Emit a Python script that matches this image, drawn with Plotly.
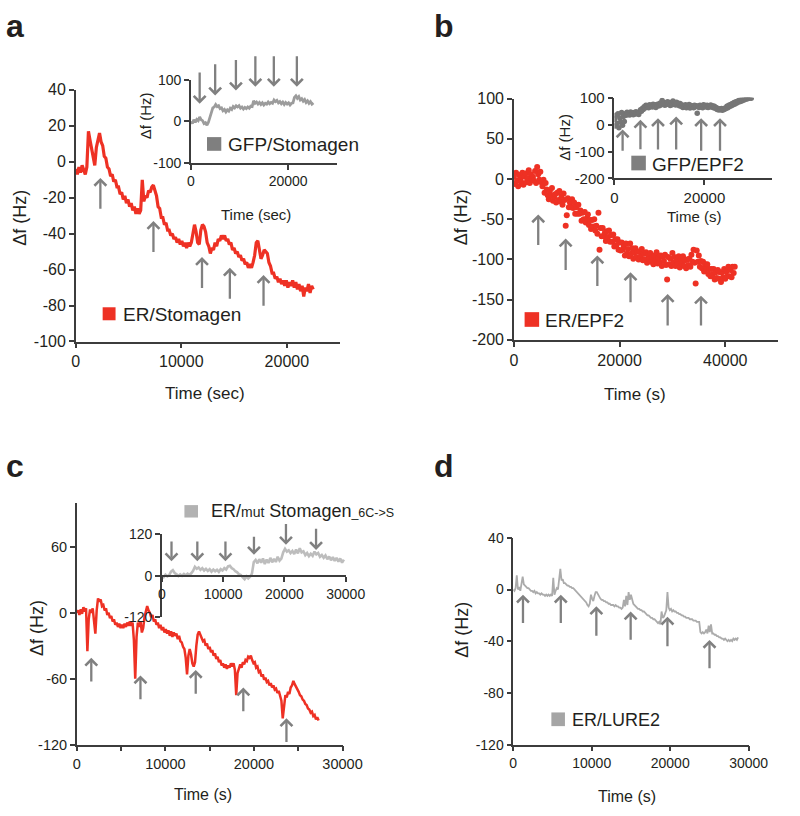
import plotly.graph_objects as go

W, H = 800, 816

# ---------------- data ----------------
# panel a: ER/Stomagen (sampled every a_step seconds)
a_step = 150
a_vals = [-4, -7, -3, -6, -2, -5, -7, -3, 17, 12, 7, 1, -2, 8, 12, 16, 11, 9, 3, 2,
          -3, -4, -8, -7, -11, -10, -14, -14, -18, -17, -21, -19, -23, -21, -25, -23, -27, -25, -29, -26,
          -29, -27, -10, -22, -19, -20, -16, -17, -14, -13, -16, -19, -25, -26, -31, -31, -35, -34, -38, -38,
          -41, -40, -43, -42, -45, -43, -46, -44, -47, -45, -48, -45, -47, -45, -40, -35, -39, -45, -46, -38,
          -35, -36, -39, -45, -47, -51, -48, -49, -45, -47, -43, -44, -41, -43, -41, -44, -43, -46, -45, -49,
          -48, -51, -50, -53, -52, -55, -54, -57, -56, -59, -57, -59, -56, -52, -45, -44, -49, -54, -52, -49,
          -50, -51, -56, -58, -62, -62, -65, -64, -67, -65, -68, -66, -69, -66, -70, -67, -69, -66, -70, -67,
          -71, -68, -72, -69, -75, -70, -72, -68, -73, -69, -71]
# panel a inset: GFP/Stomagen
a_in_step = 300
a_in_vals = [0, -5, 4, -2, 5, 2, 11, 4, 2, -5, -3, -9, -2, 12, 24, 33, 35, 41, 36, 38,
             31, 33, 26, 29, 23, 28, 25, 32, 29, 36, 33, 38, 35, 38, 32, 35, 30, 34, 31, 35,
             32, 37, 36, 50, 44, 47, 42, 46, 41, 45, 40, 44, 42, 47, 43, 46, 44, 52, 48, 51,
             45, 48, 43, 47, 41, 46, 42, 45, 40, 44, 45, 58, 62, 56, 60, 52, 55, 49, 53, 46,
             50, 44, 48, 42, 45]
# panel b: ER/EPF2
b_step = 200
b_vals = [3, -6, 8, -2, -9, 5, 1, -4, 8, -7, 3, 7, -4, 1, 11, -5, 6, 0, 3, -2,
          10, -5, 15, 6, -1, 9, -4, -9, -1, -17, -5, -13, -20, -25, -15, -20, -11, -27, -22, -19,
          -29, -17, -26, -15, -28, -21, -32, -18, -26, -58, -45, -24, -35, -29, -35, -25, -36, -29, -43, -35,
          -43, -32, -43, -39, -52, -42, -50, -41, -54, -49, -44, -57, -51, -62, -51, -59, -50, -64, -58, -68,
          -42, -88, -61, -71, -61, -71, -67, -77, -65, -72, -64, -78, -70, -78, -69, -84, -75, -82, -75, -88,
          -79, -89, -79, -88, -84, -95, -80, -93, -87, -96, -80, -93, -86, -99, -91, -86, -97, -90, -100, -90,
          -96, -87, -101, -93, -100, -91, -104, -94, -100, -92, -103, -97, -106, -95, -101, -91, -105, -98, -104, -95,
          -108, -97, -102, -94, -107, -125, -97, -106, -99, -108, -92, -104, -97, -108, -101, -106, -96, -110, -100, -105,
          -96, -108, -101, -111, -100, -107, -99, -109, -94, -103, -88, -104, -130, -89, -103, -95, -109, -102, -111, -103,
          -115, -106, -112, -106, -118, -112, -121, -112, -119, -112, -125, -116, -123, -113, -124, -116, -128, -116, -122, -112,
          -124, -115, -121, -109, -121, -113, -122, -109, -117, -109]
# panel b inset: GFP/EPF2
b_in_step = 200
b_in_vals = [20, -5, 35, 5, 40, -12, 25, 10, 45, -2, 30, 12, 40, 35, 46, 38, 44, 36, 47, 40,
             43, 37, 45, 39, 48, 41, 44, 38, 47, 55, 50, 60, 56, 66, 62, 72, 66, 70, 63, 74,
             67, 72, 65, 76, 68, 73, 64, 75, 69, 77, 70, 80, 74, 90, 78, 82, 72, 80, 75, 85,
             76, 82, 71, 80, 74, 88, 76, 81, 73, 83, 75, 79, 70, 78, 68, 73, 64, 71, 66, 74,
             63, 70, 66, 75, 62, 71, 65, 69, 63, 72, 66, 70, 42, 68, 64, 72, 66, 70, 63, 74,
             67, 71, 65, 72, 64, 70, 66, 73, 65, 70, 63, 68, 61, 64, 56, 60, 54, 59, 55, 60,
             53, 58, 56, 62, 60, 68, 63, 72, 67, 75, 70, 78, 74, 82, 77, 85, 80, 88, 84, 91,
             86, 93, 89, 96, 91, 98, 94, 100, 96, 99, 99, 100, 98]
# panel c: ER/mut Stomagen
c_step = 150
c_vals = [0, 2, -2, 3, -1, 5, 1, 4, -35, -6, 3, 0, 4, -8, -19, 2, 13, 10, 12, 6,
          7, 2, 4, -2, 0, -5, -3, -8, -6, -11, -9, -13, -10, -14, -11, -14, -10, -13, -9, -12,
          -8, -12, -9, -25, -60, -22, -9, -13, -8, -18, -14, -4, 3, 6, 2, 0, -4, -2, -8, -6,
          -11, -9, -14, -11, -16, -13, -18, -15, -19, -16, -21, -17, -22, -18, -21, -19, -24, -21, -26, -27,
          -31, -33, -41, -56, -39, -33, -38, -46, -49, -45, -30, -20, -17, -21, -23, -26, -25, -30, -28, -33,
          -31, -36, -34, -39, -37, -42, -40, -45, -43, -48, -46, -50, -47, -51, -48, -50, -46, -49, -46, -52,
          -75, -55, -50, -47, -50, -45, -47, -43, -44, -40, -41, -39, -43, -46, -45, -50, -49, -54, -53, -58,
          -56, -61, -59, -63, -62, -66, -64, -68, -66, -70, -69, -73, -71, -76, -80, -96, -82, -75, -77, -72,
          -74, -68, -66, -62, -65, -67, -70, -72, -75, -76, -79, -80, -83, -84, -87, -88, -91, -90, -94, -93,
          -97, -95, -98]
# panel c inset
c_in_step = 300
c_in_vals = [0, -4, 3, -2, 2, 12, 16, 8, 4, -1, 4, 0, 5, 1, 6, 2, 7, 14, 26, 20,
             24, 17, 22, 15, 20, 14, 19, 12, 18, 13, 17, 11, 19, 15, 22, 18, 27, 29, 22, 19,
             13, 10, 4, 2, -5, -10, -2, -8, -3, 6, 40, 46, 36, 48, 38, 50, 34, 47, 37, 52,
             39, 49, 40, 55, 44, 50, 68, 78, 70, 74, 66, 72, 63, 76, 65, 80, 68, 71, 60, 66,
             57, 64, 58, 70, 62, 66, 55, 60, 52, 59, 48, 56, 45, 54, 43, 52, 41, 50, 38, 47]
# panel d: ER/LURE2
d_step = 150
d_vals = [0, -1, 1, 11, 0, 2, -1, 4, 10, 4, 3, 2, 1, 1, 0, -1, -1, -2, -1, -3,
          -2, -3, -3, -4, -3, -4, -4, -5, -4, -5, -4, -5, -4, -5, 9, -4, -1, 1, 0, 8,
          16, 7, 8, 5, 5, 4, 3, 3, 2, 2, 1, 1, 0, -1, -2, -3, -4, -5, -6, -7,
          -8, -9, -10, -12, -13, -11, -4, -7, -9, -5, -2, -2, -4, -6, -7, -8, -8, -9, -9, -10,
          -10, -11, -11, -12, -12, -12, -13, -12, -13, -13, -14, -14, -15, -14, -8, -13, -5, -12, -2, -8,
          -4, -8, -11, -12, -13, -14, -15, -15, -16, -16, -17, -17, -18, -19, -20, -20, -21, -22, -22, -23,
          -23, -24, -25, -26, -25, -27, -17, -22, -21, -19, -16, -2, -14, -16, -15, -17, -16, -17, -17, -18,
          -18, -19, -19, -20, -20, -21, -21, -22, -22, -22, -23, -23, -23, -24, -24, -24, -25, -25, -25, -33,
          -34, -33, -34, -33, -31, -34, -28, -33, -27, -34, -34, -35, -35, -36, -36, -37, -37, -38, -38, -39,
          -38, -39, -40, -39, -40, -39, -40, -38, -39, -38, -39, -37]

# arrows (time, tip value, tail value)
a_arrow_t = [2330, 7360, 11960, 14600, 17790]
a_arrow_tip = [-9, -33, -53, -59, -63]
a_arrow_tail = [-27, -51, -71, -77, -81]
a_in_arrow_t = [1800, 4990, 9260, 13260, 17060, 21800]
a_in_arrow_tail = [122, 142, 152, 161, 161, 161]
a_in_arrow_tip = [43, 63, 75, 84, 84, 84]
b_arrow_t = [4600, 9790, 15790, 22070, 29100, 35410]
b_arrow_tip = [-44, -74, -95, -116, -143, -145]
b_arrow_tail = [-84, -115, -135, -155, -184, -184]
b_in_arrow_t = [1820, 5780, 9680, 13720, 19270, 23460]
b_in_arrow_tip = [-18, 18, 24, 30, 24, 24]
b_in_arrow_tail = [-103, -97, -98, -98, -103, -103]
c_arrow_t = [1640, 7190, 13430, 18800, 23670]
c_arrow_tip = [-41, -57, -52, -68, -96]
c_arrow_tail = [-64, -80, -75, -91, -119]
c_in_arrow_t = [1580, 5790, 10380, 15030, 20250, 25160]
c_in_arrow_tail = [104, 104, 104, 118, 155, 141]
c_in_arrow_tip = [42, 42, 42, 61, 90, 75]
d_arrow_t = [1240, 6060, 10590, 14960, 19650, 25010]
d_arrow_tip = [-4, -4, -13, -17, -21, -39]
d_arrow_tail = [-27, -27, -37, -40, -45, -62]

# tick values / labels
a_xt = [0, 10000, 20000]
a_yt = [-100, -80, -60, -40, -20, 0, 20, 40]
a_in_xt = [0, 20000]
a_in_yt = [-100, 0, 100]
b_xt = [0, 20000, 40000]
b_yt = [-200, -150, -100, -50, 0, 50, 100]
b_in_xt = [0, 20000]
b_in_yt = [-200, -100, 0, 100]
c_xt = [0, 10000, 20000, 30000]
c_yt = [-120, -60, 0, 60]
c_in_xt = [0, 10000, 20000, 30000]
c_in_yt = [-120, 0, 120]
d_xt = [0, 10000, 20000, 30000]
d_yt = [-120, -80, -40, 0, 40]

RED = "#EE3124"
ARROW = "#808080"
AXC = "#3C3C3C"
TXT = "#231F20"
FONT = "Liberation Sans, Arial, sans-serif"


def fx(px):
    return px / W


def fy(py):
    return 1 - py / H


def times(step, vals):
    return [i * step for i in range(len(vals))]


def axis(xdom, rng, tv, fs, anchor, **kw):
    d = dict(domain=[fx(xdom[0]), fx(xdom[1])], range=rng, tickvals=tv,
             ticktext=[str(v) for v in tv], tickfont=dict(size=fs, color=TXT, family=FONT),
             showline=True, linecolor=AXC, linewidth=1.5, ticks="outside", ticklen=5,
             tickcolor=AXC, tickwidth=1.5, showgrid=False, zeroline=False, anchor=anchor)
    d.update(kw)
    return d


def yaxis(ydom, rng, tv, fs, anchor, **kw):
    d = axis((0, 0), rng, tv, fs, anchor, **kw)
    d["domain"] = [fy(ydom[1]), fy(ydom[0])]
    return d


fig = go.Figure()
fig.add_trace(go.Scatter(x=times(a_step, a_vals), y=a_vals, mode="lines",
                         line=dict(color=RED, width=3.2), xaxis="x", yaxis="y"))
fig.add_trace(go.Scatter(x=times(a_in_step, a_in_vals), y=a_in_vals, mode="lines",
                         line=dict(color="#9C9C9C", width=2.8), xaxis="x2", yaxis="y2"))
fig.add_trace(go.Scatter(x=times(b_step, b_vals), y=b_vals, mode="markers",
                         marker=dict(color=RED, size=6), xaxis="x3", yaxis="y3"))
fig.add_trace(go.Scatter(x=times(b_in_step, b_in_vals), y=b_in_vals, mode="markers",
                         marker=dict(color="#767676", size=5.5), xaxis="x4", yaxis="y4"))
fig.add_trace(go.Scatter(x=times(c_step, c_vals), y=c_vals, mode="lines",
                         line=dict(color=RED, width=2.5), xaxis="x5", yaxis="y5"))
fig.add_trace(go.Scatter(x=times(c_in_step, c_in_vals), y=c_in_vals, mode="lines",
                         line=dict(color="#BDBDBD", width=2.6), xaxis="x6", yaxis="y6"))
fig.add_trace(go.Scatter(x=times(d_step, d_vals), y=d_vals, mode="lines",
                         line=dict(color="#ABABAB", width=1.8), xaxis="x7", yaxis="y7"))

layout = dict(
    width=W, height=H, margin=dict(l=0, r=0, t=0, b=0), autosize=False,
    paper_bgcolor="white", plot_bgcolor="rgba(0,0,0,0)", showlegend=False,
    font=dict(family=FONT, color=TXT),
    xaxis=axis((74, 346), [0, 25000], a_xt, 16, "y"),
    yaxis=yaxis((82.7, 340), [-100, 40], a_yt, 16, "x"),
    xaxis2=axis((192.7, 343), [0, 30000], a_in_xt, 14, "y2"),
    yaxis2=yaxis((72.7, 157.3), [-100, 100], a_in_yt, 14, "x2"),
    xaxis3=axis((525.7, 798), [0, 50000], b_xt, 16, "y3"),
    yaxis3=yaxis((91.7, 338.3), [-200, 100], b_yt, 16, "x3"),
    xaxis4=axis((629.3, 791.7), [0, 35000], b_in_xt, 15, "y4"),
    yaxis4=yaxis((90.7, 173.3), [-200, 100], b_in_yt, 15, "x4"),
    xaxis5=axis((75, 349), [0, 30000], c_xt, 14.5, "y5",
                minor=dict(dtick=5000, ticks="outside", ticklen=5, tickcolor=AXC, tickwidth=1.5)),
    yaxis5=yaxis((504.8, 752.3), [-120, 100], c_yt, 14.5, "x5"),
    xaxis6=axis((162.7, 352.3), [0, 30000], c_in_xt, 14, "free", position=fy(580)),
    yaxis6=yaxis((537.3, 621.7), [-120, 120], c_in_yt, 14, "x6"),
    xaxis7=axis((525, 767.7), [0, 30000], d_xt, 14, "y7"),
    yaxis7=yaxis((540.7, 752.3), [-120, 40], d_yt, 14, "x7"),
)

ann = []


def text(px, py, s, size, angle=0, xanchor="center", weight="normal", color=TXT):
    ann.append(dict(x=fx(px), y=fy(py), xref="paper", yref="paper", text=s, showarrow=False,
                    xanchor=xanchor, yanchor="middle", textangle=angle,
                    font=dict(size=size, color=color, family=FONT, weight=weight)))


# panel letters
text(0, 17, "a", 32, xanchor="left", weight="bold")
text(441, 17, "b", 32, xanchor="left", weight="bold")
text(0, 467, "c", 32, xanchor="left", weight="bold")
text(441, 467, "d", 32, xanchor="left", weight="bold")

# axis titles
text(207, 393, "Time (sec)", 17)
text(17, 213, "Δf (Hz)", 18, angle=-90)
text(260, 210, "Time (sec)", 15)
text(146, 109, "Δf (Hz)", 15, angle=-90)
text(651, 394, "Time (s)", 17)
text(471, 213, "Δf (Hz)", 18, angle=-90)
text(711, 212, "Time (s)", 15)
text(577, 131, "Δf (Hz)", 15, angle=-90)
text(205, 803, "Time (s)", 16)
text(34, 633, "Δf (Hz)", 18, angle=-90)
text(642, 805, "Time (s)", 16)
text(472, 635, "Δf (Hz)", 18, angle=-90)

# legends (text)
text(121, 312.5, "ER/Stomagen", 19, xanchor="left")
text(229, 139, "GFP/Stomagen", 19, xanchor="left")
text(556, 318.5, "ER/EPF2", 19, xanchor="left")
text(666, 159, "GFP/EPF2", 19, xanchor="left")
text(211, 513, "ER/<span style='font-size:14px'>mut</span> Stomagen"
     "<span style='font-size:12.5px'>_6C-&gt;S</span>", 18, xanchor="left")
text(584, 726.7, "ER/LURE2", 18, xanchor="left")

shapes = []


def square(x0, y0, x1, y1, color):
    shapes.append(dict(type="rect", xref="paper", yref="paper", x0=fx(x0), x1=fx(x1),
                       y0=fy(y1), y1=fy(y0), fillcolor=color, line=dict(width=0)))


square(101.7, 305, 115, 318.3, RED)
square(209.3, 131, 224, 145, "#7F7F7F")
square(536.7, 310, 551.7, 325, RED)
square(646.7, 150, 661.7, 165, "#7F7F7F")
square(186, 507.3, 200, 520, "#B2B2B2")
square(564.3, 719.3, 578.3, 733.3, "#A5A5A5")


def arrows(ts, tips, tails, xr, yr):
    for t, tip, tail in zip(ts, tips, tails):
        ann.append(dict(x=t, y=tip, ax=t, ay=tail, xref=xr, yref=yr, axref=xr, ayref=yr,
                        text="", showarrow=True, arrowhead=4, arrowsize=1, arrowwidth=2.3,
                        arrowcolor=ARROW, standoff=0, startstandoff=0))


arrows(a_arrow_t, a_arrow_tip, a_arrow_tail, "x", "y")
arrows(a_in_arrow_t, a_in_arrow_tip, a_in_arrow_tail, "x2", "y2")
arrows(b_arrow_t, b_arrow_tip, b_arrow_tail, "x3", "y3")
arrows(b_in_arrow_t, b_in_arrow_tip, b_in_arrow_tail, "x4", "y4")
arrows(c_arrow_t, c_arrow_tip, c_arrow_tail, "x5", "y5")
arrows(c_in_arrow_t, c_in_arrow_tip, c_in_arrow_tail, "x6", "y6")
arrows(d_arrow_t, d_arrow_tip, d_arrow_tail, "x7", "y7")

layout["annotations"] = ann
layout["shapes"] = shapes
fig.update_layout(**layout)

fig.write_html("out.html", config={"displayModeBar": False},
               post_script="document.body.style.margin='0';")
